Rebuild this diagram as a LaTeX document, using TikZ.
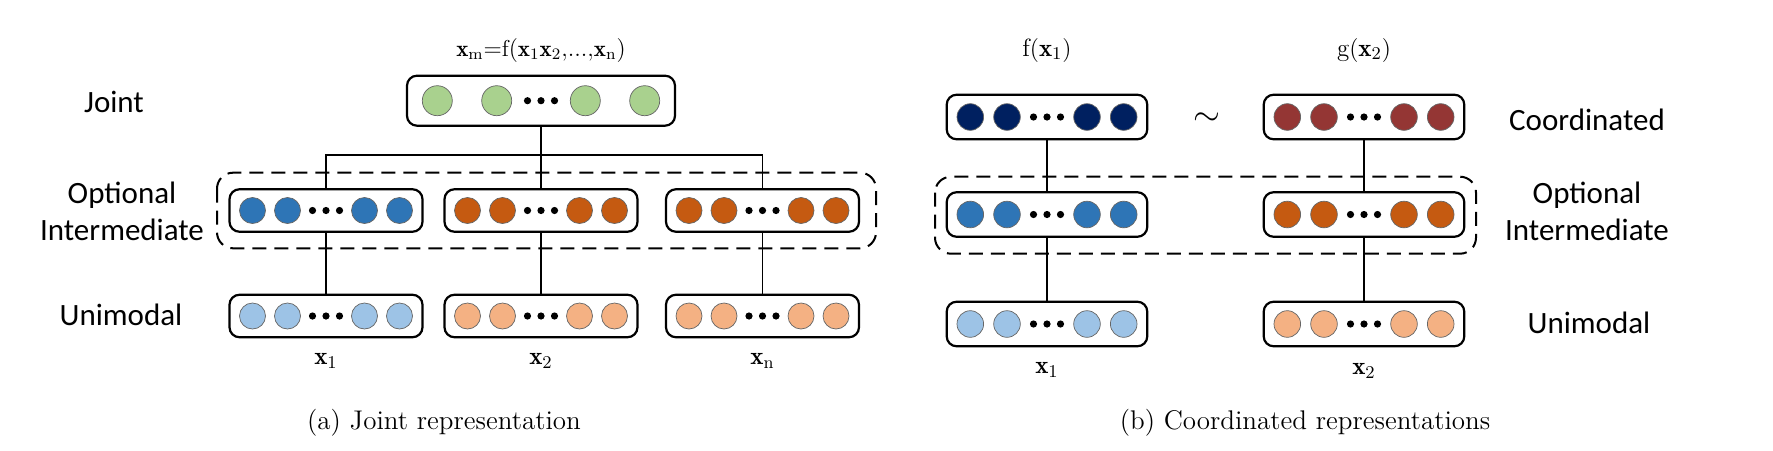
\documentclass[tikz,border=0pt]{standalone}
\usepackage{fontspec}
\setsansfont{Carlito}
\definecolor{cgreen}{HTML}{A9D18E}
\definecolor{cblue}{HTML}{2E75B6}
\definecolor{corange}{HTML}{C55A11}
\definecolor{clblue}{HTML}{9DC3E6}
\definecolor{clorange}{HTML}{F4B183}
\definecolor{cnavy}{HTML}{002060}
\definecolor{cred}{HTML}{943634}
\newcommand\neuronrow[6]{% x, y, colour, radius, outer offset, inner offset
  \foreach \s in {-1,1}{
    \draw[neuron,fill=#3] ({#1+\s*#5},#2) circle[radius=#4];
    \draw[neuron,fill=#3] ({#1+\s*#6},#2) circle[radius=#4];
  }
  \foreach \s in {-1,0,1}{\fill ({#1+\s*13.5},#2) circle[radius=1.8pt];}
}
\begin{document}
\begin{tikzpicture}[x=0.5pt,y=-0.5pt,
  vec/.style={draw=black,line width=1.1pt,rounded corners=5pt,fill=white,inner sep=0pt},
  veca/.style={vec,minimum width=96.5pt,minimum height=21.25pt},
  vecb/.style={vec,minimum width=100.3pt,minimum height=22.3pt},
  neuron/.style={draw=black!60,line width=0.35pt},
  conn/.style={draw=black,line width=0.8pt},
  optbox/.style={draw=black,line width=1pt,dash pattern=on 7pt off 4pt,rounded corners=8pt},
  lbl/.style={font=\sffamily\fontsize{15.5}{18.5}\selectfont,align=center,inner sep=0pt},
  mlbl/.style={font=\fontsize{12.5}{14}\selectfont,inner sep=0pt},
  tlbl/.style={font=\fontsize{11.5}{13}\selectfont,inner sep=0pt},
  captext/.style={font=\fontsize{13.5}{16}\selectfont,inner sep=0pt}]
\useasboundingbox (0,0) rectangle (1773,450);

% ---------------- (a) joint ----------------
\node[tlbl] (title) at (541,50) {$\mathbf{x}_{\mathrm{m}}{=}\mathrm{f}(\mathbf{x}_1\mathbf{x}_2{,}{.}{.}{.}{,}\mathbf{x}_{\mathrm{n}})$};
\node[vec,minimum width=134pt,minimum height=25pt] (joint) at (541,100.7) {};
\node[veca] (ia1) at (326,210.5) {};
\node[veca] (ia2) at (541,210.5) {};
\node[veca] (ia3) at (762.5,210.5) {};
\node[veca] (ua1) at (326,316) {};
\node[veca] (ua2) at (541,316) {};
\node[veca] (ua3) at (762.5,316) {};

\neuronrow{541}{100.7}{cgreen}{7.5pt}{103.7}{44.3}
\neuronrow{326}{210.5}{cblue}{6.5pt}{73.5}{38.5}
\neuronrow{541}{210.5}{corange}{6.5pt}{73.5}{38.5}
\neuronrow{762.5}{210.5}{corange}{6.5pt}{73.5}{38.5}
\neuronrow{326}{316}{clblue}{6.5pt}{73.5}{38.5}
\neuronrow{541}{316}{clorange}{6.5pt}{73.5}{38.5}
\neuronrow{762.5}{316}{clorange}{6.5pt}{73.5}{38.5}

\coordinate (bar) at (541,155);
\draw[conn] (joint.south) -- (ia2.north);
\draw[conn] (ia1.north) -- (ia1.north |- bar) -- (ia3.north |- bar) -- (ia3.north);
\draw[conn] (ia1.south) -- (ua1.north);
\draw[conn] (ia2.south) -- (ua2.north);
\draw[conn] (ia3.south) -- (ua3.north);

\draw[optbox] (217,172.7) rectangle (876,248.3);

\node[lbl] (ljoint) at (114,102) {Joint};
\node[lbl] (lopta) at (122,211) {Optional\\Intermediate};
\node[lbl] (lunia) at (121,315) {Unimodal};

\node[mlbl] (xa1) at (326,361) {$\mathbf{x}_1$};
\node[mlbl] (xa2) at (541,361) {$\mathbf{x}_2$};
\node[mlbl] (xan) at (762.5,361) {$\mathbf{x}_{\mathrm{n}}$};
\node[captext] (capa) at (444,423) {(a) Joint representation};

% ---------------- (b) coordinated ----------------
\node[mlbl] (fx) at (1047,50) {$\mathrm{f}(\mathbf{x}_1)$};
\node[mlbl] (gx) at (1364,50) {$\mathrm{g}(\mathbf{x}_2)$};
\node[vecb] (cb1) at (1047,117) {};
\node[vecb] (cb2) at (1364,117) {};
\node[vecb] (ib1) at (1047,214.5) {};
\node[vecb] (ib2) at (1364,214.5) {};
\node[vecb] (ub1) at (1047,324) {};
\node[vecb] (ub2) at (1364,324) {};

\neuronrow{1047}{117}{cnavy}{6.65pt}{76.7}{40}
\neuronrow{1364}{117}{cred}{6.65pt}{76.7}{40}
\neuronrow{1047}{214.5}{cblue}{6.65pt}{76.7}{40}
\neuronrow{1364}{214.5}{corange}{6.65pt}{76.7}{40}
\neuronrow{1047}{324}{clblue}{6.65pt}{76.7}{40}
\neuronrow{1364}{324}{clorange}{6.65pt}{76.7}{40}

\draw[conn] (cb1.south) -- (ib1.north);
\draw[conn] (ib1.south) -- (ub1.north);
\draw[conn] (cb2.south) -- (ib2.north);
\draw[conn] (ib2.south) -- (ub2.north);

\draw[optbox] (935,176.7) rectangle (1476,253.7);

\node[font=\fontsize{16}{18}\selectfont,inner sep=0pt] (tilde) at (1207,119) {$\sim$};
\node[lbl] (lcoord) at (1587,120) {Coordinated};
\node[lbl] (loptb) at (1587,211.5) {Optional\\Intermediate};
\node[lbl] (lunib) at (1589,323) {Unimodal};

\node[mlbl] (xb1) at (1047,370) {$\mathbf{x}_1$};
\node[mlbl] (xb2) at (1364,371) {$\mathbf{x}_2$};
\node[captext] (capb) at (1305,423) {(b) Coordinated representations};
\end{tikzpicture}
\end{document}
